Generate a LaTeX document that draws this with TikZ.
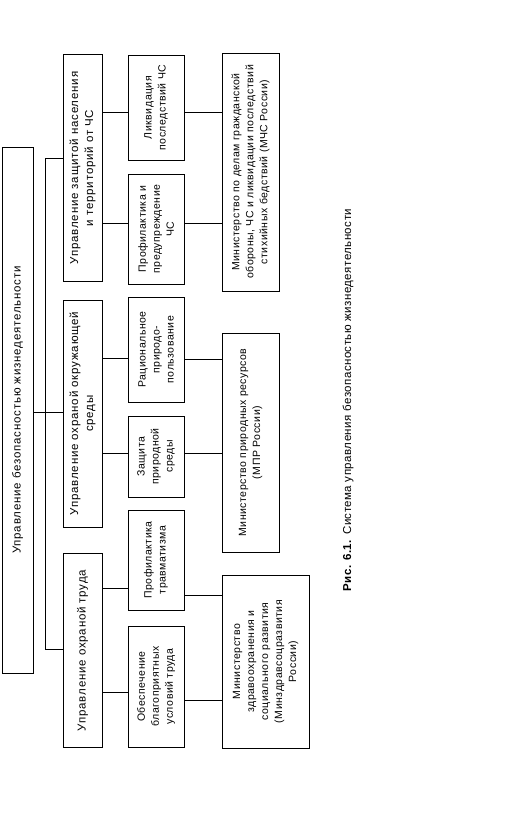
\documentclass[tikz,border=0pt]{standalone}
\usepackage{fontspec}
\setmainfont{Liberation Sans}
\newfontfamily\lsbig{Liberation Sans}[LetterSpace=7]
\newfontfamily\lssmall{Liberation Sans}[LetterSpace=5]
\newfontfamily\lscap{Liberation Sans}[LetterSpace=4]
\begin{document}
\begin{tikzpicture}[x=1pt,y=-1pt,
  box/.style={draw, line width=1pt, rotate=90, align=center, inner sep=2pt,
    font=\lssmall\fontsize{10.5}{14}\selectfont},
  bigbox/.style={box, font=\lsbig\fontsize{11.5}{15}\selectfont},
  ln/.style={line width=1pt}]
\useasboundingbox (0,0) rectangle (505,827);
\fill[white] (0,0) rectangle (505,827);
% level 1
\node[bigbox, minimum width=526pt, minimum height=31pt] (root) at (17.5,410) {Управление безопасностью жизнедеятельности};
% level 2
\node[bigbox, minimum width=227pt, minimum height=39pt] (A) at (82.5,168) {Управление защитой населения\\и территорий от ЧС};
\node[bigbox, minimum width=227pt, minimum height=39pt] (B) at (82.5,413.5) {Управление охраной окружающей\\среды};
\node[bigbox, minimum width=194pt, minimum height=39pt] (C) at (82.5,650.5) {Управление охраной труда};
% level 3
\node[box, minimum width=105pt, minimum height=56pt] (L1) at (156,107.5) {Ликвидация\\последствий ЧС};
\node[box, minimum width=110pt, minimum height=56pt] (L2) at (156,229) {Профилактика и\\предупреждение\\ЧС};
\node[box, minimum width=105pt, minimum height=56pt] (L3) at (156,349.5) {Рациональное\\природо-\\пользование};
\node[box, minimum width=81pt, minimum height=56pt] (L4) at (156,456.5) {Защита\\природной\\среды};
\node[box, minimum width=100pt, minimum height=56pt] (L5) at (156,560) {Профилактика\\травматизма};
\node[box, minimum width=121pt, minimum height=56pt] (L6) at (156,686.5) {Обеспечение\\благоприятных\\условий труда};
% level 4
\node[box, minimum width=238pt, minimum height=57pt] (M1) at (250.5,172) {Министерство по делам гражданской\\обороны, ЧС и ликвидации последствий\\стихийных бедствий (МЧС России)};
\node[box, minimum width=219pt, minimum height=57pt] (M2) at (250.5,442.5) {Министерство природных ресурсов\\(МПР России)};
\node[box, minimum width=173pt, minimum height=87pt] (M3) at (265.5,661.5) {Министерство\\здравоохранения и\\социального развития\\(Минздравсоцразвития\\России)};
% caption
\node[rotate=90, font=\lscap\fontsize{11.5}{14}\selectfont] (cap) at (348,400) {\textbf{Рис. 6.1.} Система управления безопасностью жизнедеятельности};
% spine
\coordinate (s1) at (45,158);
\coordinate (s2) at (45,649);
\draw[ln] (A.north |- s1) -- (s1) -- (s2) -- (C.north |- s2);
\draw[ln] (root.south |- 0,412) -- (B.north |- 0,412);
% level 2 -> 3
\draw[ln] (A.south |- 0,112) -- (L1.north |- 0,112);
\draw[ln] (A.south |- 0,223) -- (L2.north |- 0,223);
\draw[ln] (B.south |- 0,358) -- (L3.north |- 0,358);
\draw[ln] (B.south |- 0,453) -- (L4.north |- 0,453);
\draw[ln] (C.south |- 0,588) -- (L5.north |- 0,588);
\draw[ln] (C.south |- 0,692) -- (L6.north |- 0,692);
% level 3 -> 4
\draw[ln] (L1.south |- 0,112) -- (M1.north |- 0,112);
\draw[ln] (L2.south |- 0,223) -- (M1.north |- 0,223);
\draw[ln] (L3.south |- 0,359) -- (M2.north |- 0,359);
\draw[ln] (L4.south |- 0,453) -- (M2.north |- 0,453);
\draw[ln] (L5.south |- 0,595) -- (M3.north |- 0,595);
\draw[ln] (L6.south |- 0,700) -- (M3.north |- 0,700);
\end{tikzpicture}
\end{document}
